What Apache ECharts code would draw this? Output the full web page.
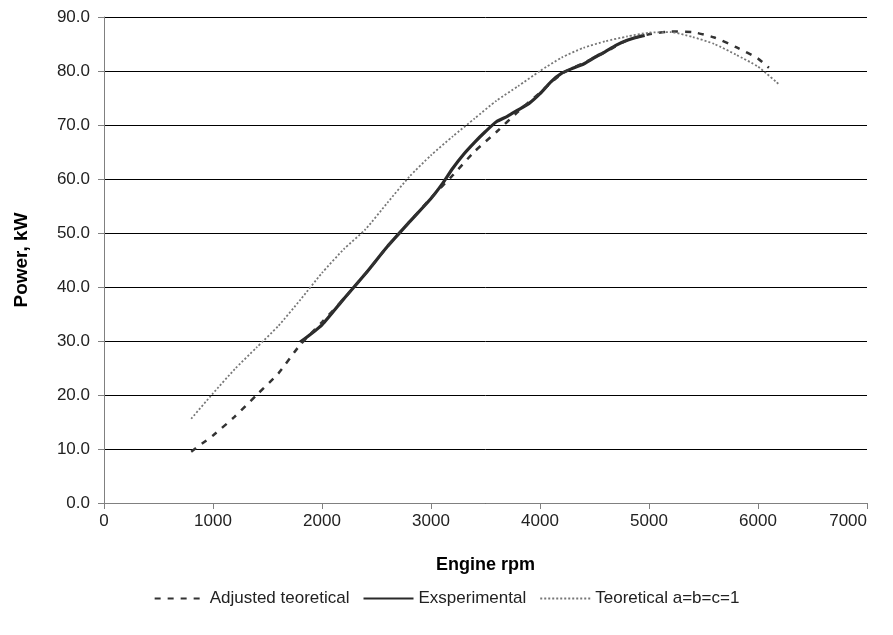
<!DOCTYPE html>
<html><head><meta charset="utf-8">
<script src="https://cdn.jsdelivr.net/npm/echarts@6/dist/echarts.min.js"></script>
<style>html,body{margin:0;padding:0;background:#fff}#c{width:893px;height:635px}</style>
</head><body><div id="c"></div>
<script>
// Adjusted theoretical
const adjRpm = [800, 900, 1000, 1200, 1400, 1600, 1800, 2000, 2200, 2400, 2600, 2800, 3000, 3200, 3400, 3600, 3800, 4000, 4200, 4400, 4600, 4800, 5000, 5200, 5400, 5600, 5800, 6000, 6100];
const adjPow = [9.5, 11.0, 12.5, 16.0, 20.0, 24.0, 29.3, 33.5, 37.8, 42.5, 47.5, 52.0, 56.5, 60.7, 65.1, 68.7, 72.5, 76.0, 79.5, 81.5, 83.5, 85.7, 86.8, 87.3, 87.2, 86.2, 84.4, 82.3, 80.6];
// Experimental
const expRpm = [1800, 2000, 2200, 2400, 2600, 2800, 3000, 3100, 3200, 3300, 3400, 3500, 3600, 3700, 3800, 3900, 4000, 4100, 4200, 4300, 4400, 4500, 4600, 4700, 4800, 4900, 4960];
const expPow = [29.8, 33.0, 37.8, 42.5, 47.5, 52.0, 56.4, 59.0, 62.0, 64.6, 66.8, 68.8, 70.6, 71.6, 72.8, 74.0, 75.8, 78.0, 79.6, 80.5, 81.3, 82.5, 83.6, 84.8, 85.7, 86.3, 86.6];
// Theoretical a=b=c=1
const thRpm = [800, 1000, 1200, 1400, 1600, 1800, 2000, 2200, 2400, 2600, 2800, 3000, 3200, 3400, 3600, 3800, 4000, 4200, 4400, 4600, 4800, 5000, 5200, 5400, 5600, 5800, 6000, 6200];
const thPow = [15.6, 20.3, 24.8, 28.8, 32.8, 37.6, 42.6, 47.0, 50.7, 55.6, 60.4, 64.4, 67.9, 71.2, 74.5, 77.2, 80.0, 82.5, 84.3, 85.5, 86.4, 87.1, 87.2, 86.3, 85.0, 83.0, 80.8, 77.4];
const seriesNames = ['Adjusted teoretical', 'Exsperimental', 'Teoretical a=b=c=1'];
const xTicks = {min: 0, max: 7000, step: 1000};
const yTicks = {min: 0, max: 90, step: 10};

const pairs = (xs, ys) => xs.map((x, i) => [x, ys[i]]);
const font = 'Liberation Sans, Arial, sans-serif';
const chart = echarts.init(document.getElementById('c'));
chart.setOption({
  animation: false,
  backgroundColor: '#fff',
  textStyle: {fontFamily: font},
  grid: {left: 104, right: 26, top: 17, bottom: 132, containLabel: false},
  xAxis: {
    type: 'value', min: xTicks.min, max: xTicks.max, interval: xTicks.step,
    name: 'Engine rpm', nameLocation: 'middle', nameGap: 53,
    nameTextStyle: {fontFamily: font, fontSize: 18, fontWeight: 'bold', color: '#000'},
    axisLine: {show: true, lineStyle: {color: '#808080', width: 1}},
    axisTick: {show: true, length: 6, lineStyle: {color: '#808080'}},
    axisLabel: {fontFamily: font, fontSize: 17, color: '#222', margin: 10, alignMaxLabel: 'right', formatter: v => String(v)},
    splitLine: {show: false}
  },
  yAxis: {
    type: 'value', min: yTicks.min, max: yTicks.max, interval: yTicks.step,
    name: 'Power, kW', nameLocation: 'middle', nameGap: 73, nameRotate: 90,
    nameTextStyle: {fontFamily: font, fontSize: 19, fontWeight: 'bold', color: '#000'},
    axisLine: {show: true, lineStyle: {color: '#808080', width: 1}},
    axisTick: {show: true, length: 6, lineStyle: {color: '#808080'}},
    axisLabel: {fontFamily: font, fontSize: 17, color: '#222', margin: 14, formatter: v => v.toFixed(1)},
    splitLine: {show: true, lineStyle: {color: '#000', width: 1}}
  },
  legend: {
    top: 585, left: 'center', itemWidth: 50, itemHeight: 12, itemGap: 13,
    textStyle: {fontFamily: font, fontSize: 17, color: '#222'},
    itemStyle: {opacity: 0},
    data: seriesNames
  },
  series: [
    {name: seriesNames[0], type: 'line', data: pairs(adjRpm, adjPow), symbol: 'none', smooth: 0.2,
     lineStyle: {color: '#333', width: 2.5, type: [6, 7]}, itemStyle: {color: '#333'}, z: 3},
    {name: seriesNames[1], type: 'line', data: pairs(expRpm, expPow), symbol: 'none', smooth: 0.2,
     lineStyle: {color: '#2a2a2a', width: 3.2, type: 'solid'}, itemStyle: {color: '#2a2a2a'}, z: 2},
    {name: seriesNames[2], type: 'line', data: pairs(thRpm, thPow), symbol: 'none', smooth: 0.2,
     lineStyle: {color: '#777', width: 1.8, type: [2, 2]}, itemStyle: {color: '#777'}, z: 4}
  ]
});
</script></body></html>
